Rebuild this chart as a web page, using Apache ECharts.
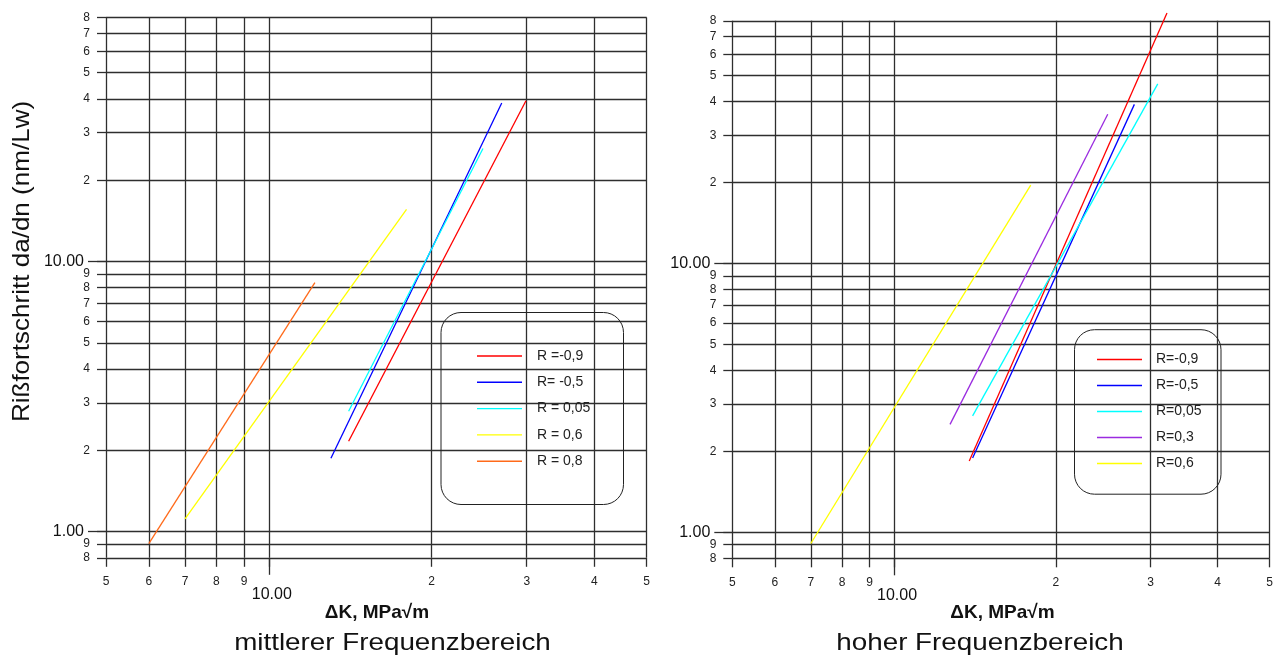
<!DOCTYPE html>
<html><head><meta charset="utf-8">
<script src="https://cdn.jsdelivr.net/npm/echarts@6/dist/echarts.min.js"></script>
<style>html,body{margin:0;padding:0;background:#fff}#c{width:1282px;height:660px}</style>
</head><body><div id="c"></div>
<script>
// tick values
const xTicks = [5, 6, 7, 8, 9, 10, 20, 30, 40, 50];
const yTicks = [0.8, 0.9, 1, 2, 3, 4, 5, 6, 7, 8, 9, 10, 20, 30, 40, 50, 60, 70, 80];
const xMajorTicks = [10];
const yMajorTicks = [1, 10];

// left panel: mittlerer Frequenzbereich
const leftNames = ['R =-0,9', 'R= -0,5', 'R = 0,05', 'R = 0,6', 'R = 0,8'];
const leftColors = ['#ff0000', '#0000ff', '#00ffff', '#ffff00', '#ff6a1a'];
const leftDK = [[14.05, 29.9], [13.03, 26.97], [14.05, 24.9], [7.0, 17.98], [6.0, 12.17]];
const leftDaDn = [[2.16, 39.4], [1.87, 38.6], [2.79, 26.2], [1.115, 15.6], [0.902, 8.36]];

// right panel: hoher Frequenzbereich
const rightNames = ['R=-0,9', 'R=-0,5', 'R=0,05', 'R=0,3', 'R=0,6'];
const rightColors = ['#ff0000', '#0000ff', '#00ffff', '#9a2be0', '#ffff00'];
const rightDK = [[13.8, 32.2], [14.0, 28.0], [14.0, 30.95], [12.71, 24.98], [7.0, 17.96]];
const rightDaDn = [[1.843, 85.6], [1.89, 39.1], [2.71, 46.6], [2.52, 35.9], [0.908, 19.56]];

const FONT = '"Liberation Sans", Arial, sans-serif';
const GRID_COLOR = '#2e2e2e';

function tickFmt(v) {
  if (Math.abs(v - 10) < 1e-9) return '{big|10.00}';
  if (Math.abs(v - 1) < 1e-9) return '{big|1.00}';
  const p = Math.pow(10, Math.floor(Math.log10(v) + 1e-9));
  return '{small|' + Math.round(v / p) + '}';
}

function makeX(gi, min, max) {
  return [{
    gridIndex: gi, type: 'log', logBase: 10, min: min, max: max, position: 'bottom',
    axisLine: { show: false },
    axisTick: { show: true, customValues: xTicks, length: 9, lineStyle: { color: GRID_COLOR, width: 1.3 } },
    axisLabel: {
      customValues: xTicks, margin: 18, formatter: tickFmt, showMinLabel: true, showMaxLabel: true,
      rich: {
        small: { fontFamily: FONT, fontSize: 12, color: '#222' },
        big: { fontFamily: FONT, fontSize: 16, color: '#111', padding: [11, 0, 0, 6] }
      }
    },
    splitLine: { show: true, lineStyle: { color: GRID_COLOR, width: 1.3 } }
  }, {
    gridIndex: gi, type: 'log', logBase: 10, min: min, max: max, position: 'bottom', offset: 0,
    axisLine: { show: false },
    axisTick: { show: true, customValues: xMajorTicks, length: 17, lineStyle: { color: GRID_COLOR, width: 1.3 } },
    axisLabel: { show: false },
    splitLine: { show: false }
  }];
}
function makeY(gi, min, max) {
  return [{
    gridIndex: gi, type: 'log', logBase: 10, min: min, max: max, position: 'left',
    axisLine: { show: false },
    axisTick: { show: true, customValues: yTicks, length: 9, lineStyle: { color: GRID_COLOR, width: 1.3 } },
    axisLabel: {
      customValues: yTicks, margin: 16, formatter: tickFmt, showMinLabel: true, showMaxLabel: true,
      rich: {
        small: { fontFamily: FONT, fontSize: 12, color: '#222' },
        big: { fontFamily: FONT, fontSize: 16, color: '#111', padding: [0, 6, 0, 0] }
      }
    },
    splitLine: { show: true, lineStyle: { color: GRID_COLOR, width: 1.3 } }
  }, {
    gridIndex: gi, type: 'log', logBase: 10, min: min, max: max, position: 'left', offset: 0,
    axisLine: { show: false },
    axisTick: { show: true, customValues: yMajorTicks, length: 18, lineStyle: { color: GRID_COLOR, width: 1.3 } },
    axisLabel: { show: false },
    splitLine: { show: false }
  }];
}

function makeSeries(names, colors, xs, ys, axisIdx) {
  return names.map((n, i) => ({
    name: n, type: 'line', xAxisIndex: axisIdx, yAxisIndex: axisIdx,
    symbol: 'none', clip: false, silent: true, animation: false,
    lineStyle: { color: colors[i], width: 1.3 }, itemStyle: { color: colors[i] },
    data: xs[i].map((x, k) => [x, ys[i][k]])
  }));
}

const legendCommon = {
  orient: 'vertical', padding: 0, icon: 'rect',
  itemWidth: 45, itemHeight: 1.4, selectedMode: false,
  textStyle: { fontFamily: FONT, fontSize: 14, lineHeight: 14, color: '#222', padding: [0, 0, 0, 10] }
};

const chart = echarts.init(document.getElementById('c'), null, { renderer: 'canvas' });
chart.setOption({
  animation: false,
  backgroundColor: '#fff',
  grid: [
    { left: 106, top: 17.6, width: 540.7, height: 540.2 },
    { left: 732.3, top: 20.8, width: 537.4, height: 537.5 }
  ],
  xAxis: [...makeX(0, 5, 50), ...makeX(1, 5, 50)],
  yAxis: [...makeY(0, 0.8, 80), ...makeY(1, 0.8, 80)],
  legend: [
    Object.assign({}, legendCommon, { data: leftNames, left: 477, top: 349, itemGap: 12.3 }),
    Object.assign({}, legendCommon, { data: rightNames, left: 1097, top: 352.5, itemGap: 12,
      textStyle: Object.assign({}, legendCommon.textStyle, { padding: [0, 0, 0, 9] }) })
  ],
  graphic: [
    { type: 'rect', shape: { x: 441, y: 312.5, width: 182.5, height: 192, r: 20 },
      style: { fill: 'none', stroke: '#222', lineWidth: 1 }, z: 10 },
    { type: 'rect', shape: { x: 1074.5, y: 329.7, width: 146.5, height: 164.5, r: 20 },
      style: { fill: 'none', stroke: '#222', lineWidth: 1 }, z: 10 },
    { type: 'text', x: 22, y: 261.5, rotation: Math.PI / 2, scaleX: 1.085,
      style: { text: 'Rißfortschritt da/dn (nm/Lw)', font: '24px ' + FONT, fill: '#111', align: 'center', verticalAlign: 'middle' } },
    { type: 'text', x: 377, y: 613,
      style: { text: 'ΔK, MPa√m', font: 'bold 19px ' + FONT, fill: '#111', align: 'center', verticalAlign: 'middle' } },
    { type: 'text', x: 1002.5, y: 613,
      style: { text: 'ΔK, MPa√m', font: 'bold 19px ' + FONT, fill: '#111', align: 'center', verticalAlign: 'middle' } },
    { type: 'text', x: 392.5, y: 643, scaleX: 1.158,
      style: { text: 'mittlerer Frequenzbereich', font: '24px ' + FONT, fill: '#111', align: 'center', verticalAlign: 'middle' } },
    { type: 'text', x: 980, y: 643, scaleX: 1.158,
      style: { text: 'hoher Frequenzbereich', font: '24px ' + FONT, fill: '#111', align: 'center', verticalAlign: 'middle' } }
  ],
  series: [
    ...makeSeries(leftNames, leftColors, leftDK, leftDaDn, 0),
    ...makeSeries(rightNames, rightColors, rightDK, rightDaDn, 2)
  ]
});
</script>
</body></html>
